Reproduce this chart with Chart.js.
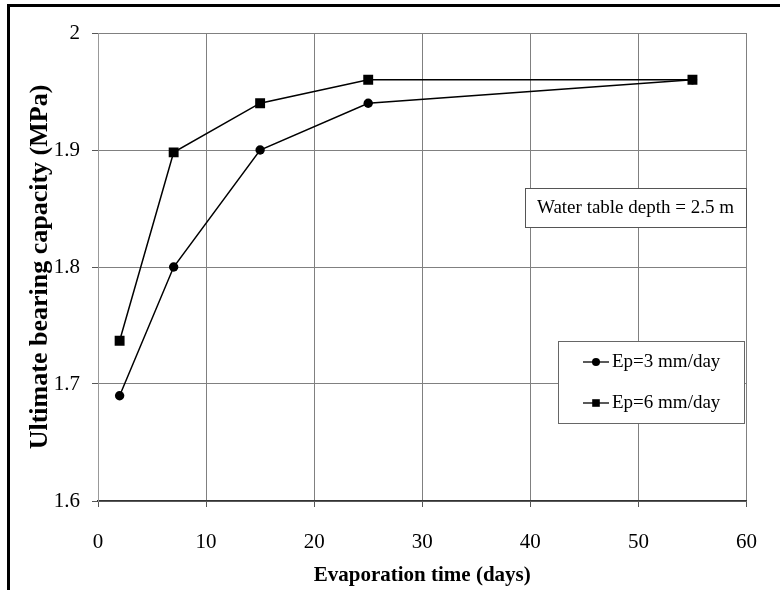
<!DOCTYPE html>
<html><head><meta charset="utf-8">
<script src="https://cdn.jsdelivr.net/npm/chart.js@4/dist/chart.umd.min.js"></script>
<style>
html,body{margin:0;padding:0;background:#fff;}
#wrap{position:relative;width:780px;height:590px;overflow:hidden;}
#frame{position:absolute;left:7px;top:4px;width:800px;height:600px;border-top:3px solid #000;border-left:3px solid #000;pointer-events:none;}
canvas{position:absolute;left:0;top:0;}
</style></head><body>
<div id="wrap"><canvas id="c" width="780" height="590"></canvas><div id="frame"></div></div>
<script>
const evaporationDays = [2, 7, 15, 25, 55];
const capacityEp3 = [1.69, 1.80, 1.90, 1.94, 1.96];
const capacityEp6 = [1.737, 1.898, 1.94, 1.96, 1.96];
const seriesLabels = ['Ep=3 mm/day', 'Ep=6 mm/day'];
const seriesMarkers = ['circle', 'rect'];
const xTickLabels = ['0', '10', '20', '30', '40', '50', '60'];
const yTickLabels = ['1.6', '1.7', '1.8', '1.9', '2'];
const xTitle = 'Evaporation time (days)';
const yTitle = 'Ultimate bearing capacity (MPa)';
const annotationText = 'Water table depth = 2.5 m';

const SERIF = '"Liberation Serif", "Times New Roman", serif';

function pts(ys) { return evaporationDays.map((x, i) => ({ x: x, y: ys[i] })); }

function drawMarker(ctx, type, x, y, r) {
  ctx.beginPath();
  if (type === 'circle') { ctx.arc(x, y, r, 0, Math.PI * 2); }
  else { ctx.rect(x - r, y - r, 2 * r, 2 * r); }
  ctx.fillStyle = '#000';
  ctx.fill();
}

const boxesPlugin = {
  id: 'boxes',
  afterDraw(chart) {
    const ctx = chart.ctx;
    ctx.save();
    // annotation box
    ctx.fillStyle = '#fff';
    ctx.fillRect(525, 188, 221, 39);
    ctx.strokeStyle = '#555';
    ctx.lineWidth = 1;
    ctx.strokeRect(525.5, 188.5, 221, 39);
    ctx.fillStyle = '#000';
    ctx.font = '19px ' + SERIF;
    ctx.textBaseline = 'middle';
    ctx.textAlign = 'left';
    ctx.fillText(annotationText, 537, 208);
    // legend box
    ctx.fillStyle = '#fff';
    ctx.fillRect(558, 341, 186, 82);
    ctx.strokeStyle = '#666';
    ctx.strokeRect(558.5, 341.5, 186, 82);
    const rows = [362, 403];
    chart.data.datasets.forEach((ds, i) => {
      const y = rows[i];
      ctx.strokeStyle = '#000';
      ctx.lineWidth = 1.3;
      ctx.beginPath(); ctx.moveTo(583, y); ctx.lineTo(609, y); ctx.stroke();
      drawMarker(ctx, seriesMarkers[i], 596, y, i === 0 ? 4 : 3.8);
      ctx.fillStyle = '#000';
      ctx.font = '19px ' + SERIF;
      ctx.fillText(ds.label, 612, y);
    });
    ctx.restore();
  }
};

new Chart(document.getElementById('c'), {
  type: 'scatter',
  data: {
    datasets: [
      { label: seriesLabels[0], data: pts(capacityEp3), showLine: true, borderColor: '#000', borderWidth: 1.5,
        pointStyle: seriesMarkers[0], pointRadius: 4.7, pointBackgroundColor: '#000', pointBorderColor: '#000', pointBorderWidth: 0 },
      { label: seriesLabels[1], data: pts(capacityEp6), showLine: true, borderColor: '#000', borderWidth: 1.5,
        pointStyle: seriesMarkers[1], pointRadius: 7, pointBackgroundColor: '#000', pointBorderColor: '#000', pointBorderWidth: 0 }
    ]
  },
  options: {
    responsive: false,
    devicePixelRatio: 1,
    animation: false,
    events: [],
    layout: { padding: { top: 33, right: 27, bottom: 0, left: 0 } },
    plugins: { legend: { display: false }, tooltip: { enabled: false } },
    scales: {
      x: {
        type: 'linear', min: 0, max: 60,
        afterFit(s) { s.height = 89; },
        ticks: { stepSize: 10, padding: 23, color: '#000', font: { family: SERIF, size: 21 },
          callback: (v, i) => xTickLabels[i] },
        grid: { color: '#808080', lineWidth: 1, tickLength: 6, tickColor: '#555' },
        border: { color: '#333', width: 1.5 },
        title: { display: true, text: xTitle, color: '#000', font: { family: SERIF, size: 21, weight: 'bold' },
          padding: { top: 0, bottom: 2 } }
      },
      y: {
        type: 'linear', min: 1.6, max: 2,
        afterFit(s) { s.width = 98; },
        ticks: { stepSize: 0.1, padding: 12, color: '#000', font: { family: SERIF, size: 21 },
          callback: (v, i) => yTickLabels[i] },
        grid: { color: '#808080', lineWidth: 1, tickLength: 6, tickColor: '#555' },
        border: { color: '#999', width: 1 },
        title: { display: true, text: yTitle, color: '#000', font: { family: SERIF, size: 26, weight: 'bold' },
          padding: { top: 25, bottom: 0 } }
      }
    }
  },
  plugins: [boxesPlugin]
});
</script>
</body></html>
